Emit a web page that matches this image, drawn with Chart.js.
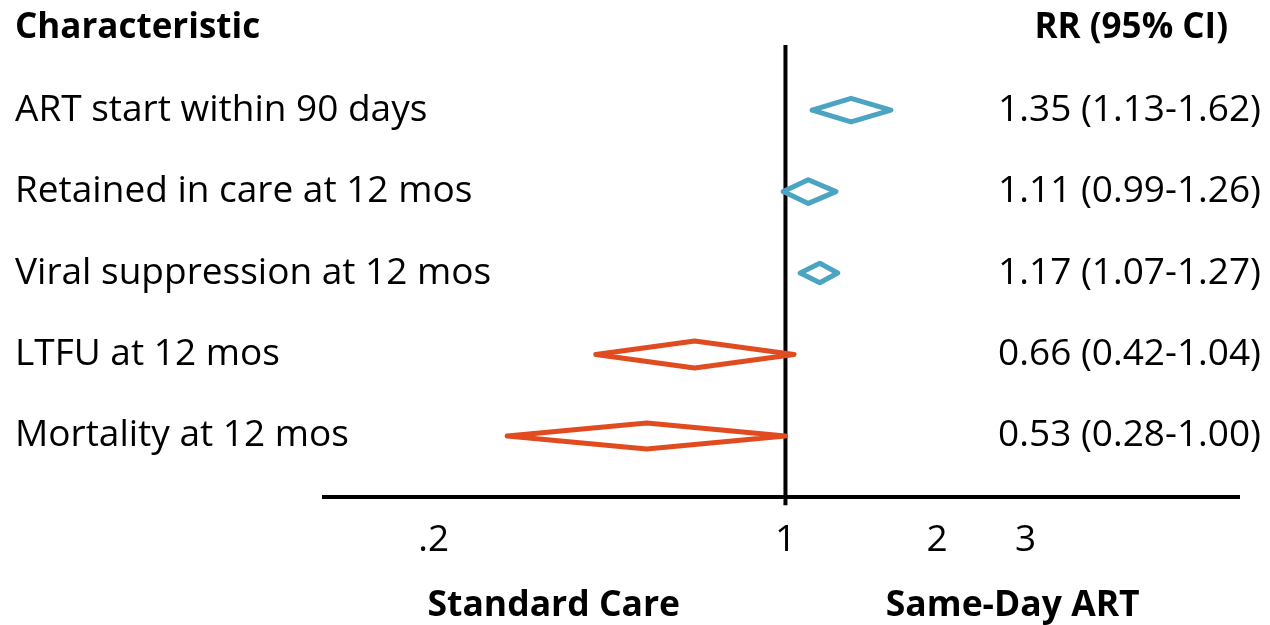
<!DOCTYPE html>
<html>
<head>
<meta charset="utf-8">
<script src="https://cdn.jsdelivr.net/npm/chart.js@4.4.1/dist/chart.umd.min.js"></script>
<style>
  html, body { margin: 0; padding: 0; background: #fff; }
  #wrap { width: 1270px; height: 625px; }
</style>
</head>
<body>
<div id="wrap"><canvas id="forest"></canvas></div>
<script>
// rows of the forest plot, top to bottom
const characteristics = [
    "ART start within 90 days",
    "Retained in care at 12 mos",
    "Viral suppression at 12 mos",
    "LTFU at 12 mos",
    "Mortality at 12 mos"
];
const estimates = [1.35, 1.11, 1.17, 0.66, 0.53];
const lowerCI = [1.13, 0.99, 1.07, 0.42, 0.28];
const upperCI = [1.62, 1.26, 1.27, 1.04, 1.00];
const ciLabels = [
    "1.35 (1.13-1.62)",
    "1.11 (0.99-1.26)",
    "1.17 (1.07-1.27)",
    "0.66 (0.42-1.04)",
    "0.53 (0.28-1.00)"
];
const xTicks = [0.2, 1, 2, 3];
const xTickLabels = [".2", "1", "2", "3"];
const sideLabels = ["Standard Care", "Same-Day ART"];
const headers = ["Characteristic", "RR (95% CI)"];

// styling (not data)
const BLUE = "#4aa4c2";
const ORANGE = "#e04b20";
const diamondHalf = [0.145, 0.145, 0.12, 0.165, 0.16];
const X_MIN = 0.12, X_MAX = 8;
const Y_MIN = -0.8, Y_MAX = 4.75;
const FONT = "'Open Sans', sans-serif";

const datasets = characteristics.map((name, i) => {
    const h = diamondHalf[i];
    return {
        label: name,
        data: [
            { x: lowerCI[i], y: i },
            { x: estimates[i], y: i - h },
            { x: upperCI[i], y: i },
            { x: estimates[i], y: i + h },
            { x: lowerCI[i], y: i }
        ],
        borderColor: estimates[i] >= 1 ? BLUE : ORANGE,
        borderWidth: 5,
        borderJoinStyle: "round",
        borderCapStyle: "round",
        pointRadius: 0,
        fill: false,
        tension: 0,
        clip: false,
        order: 0
    };
});

// line of no effect at RR = 1
datasets.push({
    label: "ref",
    data: [{ x: 1, y: Y_MIN }, { x: 1, y: Y_MAX + 0.1 }],
    borderColor: "#000",
    borderWidth: 4,
    pointRadius: 0,
    fill: false,
    clip: false,
    order: 1
});

const textPlugin = {
    id: "forestText",
    afterDatasetsDraw(chart) {
        const ctx = chart.ctx;
        const xs = chart.scales.x;
        const ys = chart.scales.y;
        const area = chart.chartArea;
        ctx.save();

        // x axis line
        ctx.strokeStyle = "#000";
        ctx.lineWidth = 4;
        ctx.beginPath();
        ctx.moveTo(area.left, area.bottom);
        ctx.lineTo(area.right, area.bottom);
        ctx.stroke();

        ctx.fillStyle = "#000";
        ctx.textBaseline = "middle";

        // headers
        ctx.font = "bold 35px " + FONT;
        ctx.textAlign = "left";
        ctx.fillText(headers[0], 15, area.top - 17);
        ctx.textAlign = "right";
        ctx.fillText(headers[1], 1228, area.top - 17);

        // row labels and estimates
        ctx.font = "37px " + FONT;
        characteristics.forEach((name, i) => {
            const y = ys.getPixelForValue(i);
            ctx.textAlign = "left";
            ctx.fillText(name, 15, y);
            ctx.textAlign = "right";
            ctx.fillText(ciLabels[i], 1261, y);
        });

        // tick labels
        ctx.textAlign = "center";
        xTicks.forEach((v, i) => {
            ctx.fillText(xTickLabels[i], xs.getPixelForValue(v), area.bottom + 43);
        });

        // direction labels, centred on each half of the axis
        ctx.font = "bold 35.5px " + FONT;
        ctx.fillText(sideLabels[0], xs.getPixelForValue(Math.sqrt(X_MIN * 1)), area.bottom + 109);
        ctx.fillText(sideLabels[1], xs.getPixelForValue(Math.sqrt(X_MAX * 1)), area.bottom + 109);

        ctx.restore();
    }
};

new Chart(document.getElementById("forest").getContext("2d"), {
    type: "line",
    data: { datasets: datasets },
    options: {
        responsive: true,
        maintainAspectRatio: false,
        animation: false,
        layout: { padding: { left: 322, right: 30, top: 45, bottom: 128 } },
        plugins: { legend: { display: false }, tooltip: { enabled: false } },
        scales: {
            x: { type: "logarithmic", min: X_MIN, max: X_MAX, display: false },
            y: { type: "linear", min: Y_MIN, max: Y_MAX, reverse: true, display: false }
        }
    },
    plugins: [textPlugin]
});
</script>
</body>
</html>
